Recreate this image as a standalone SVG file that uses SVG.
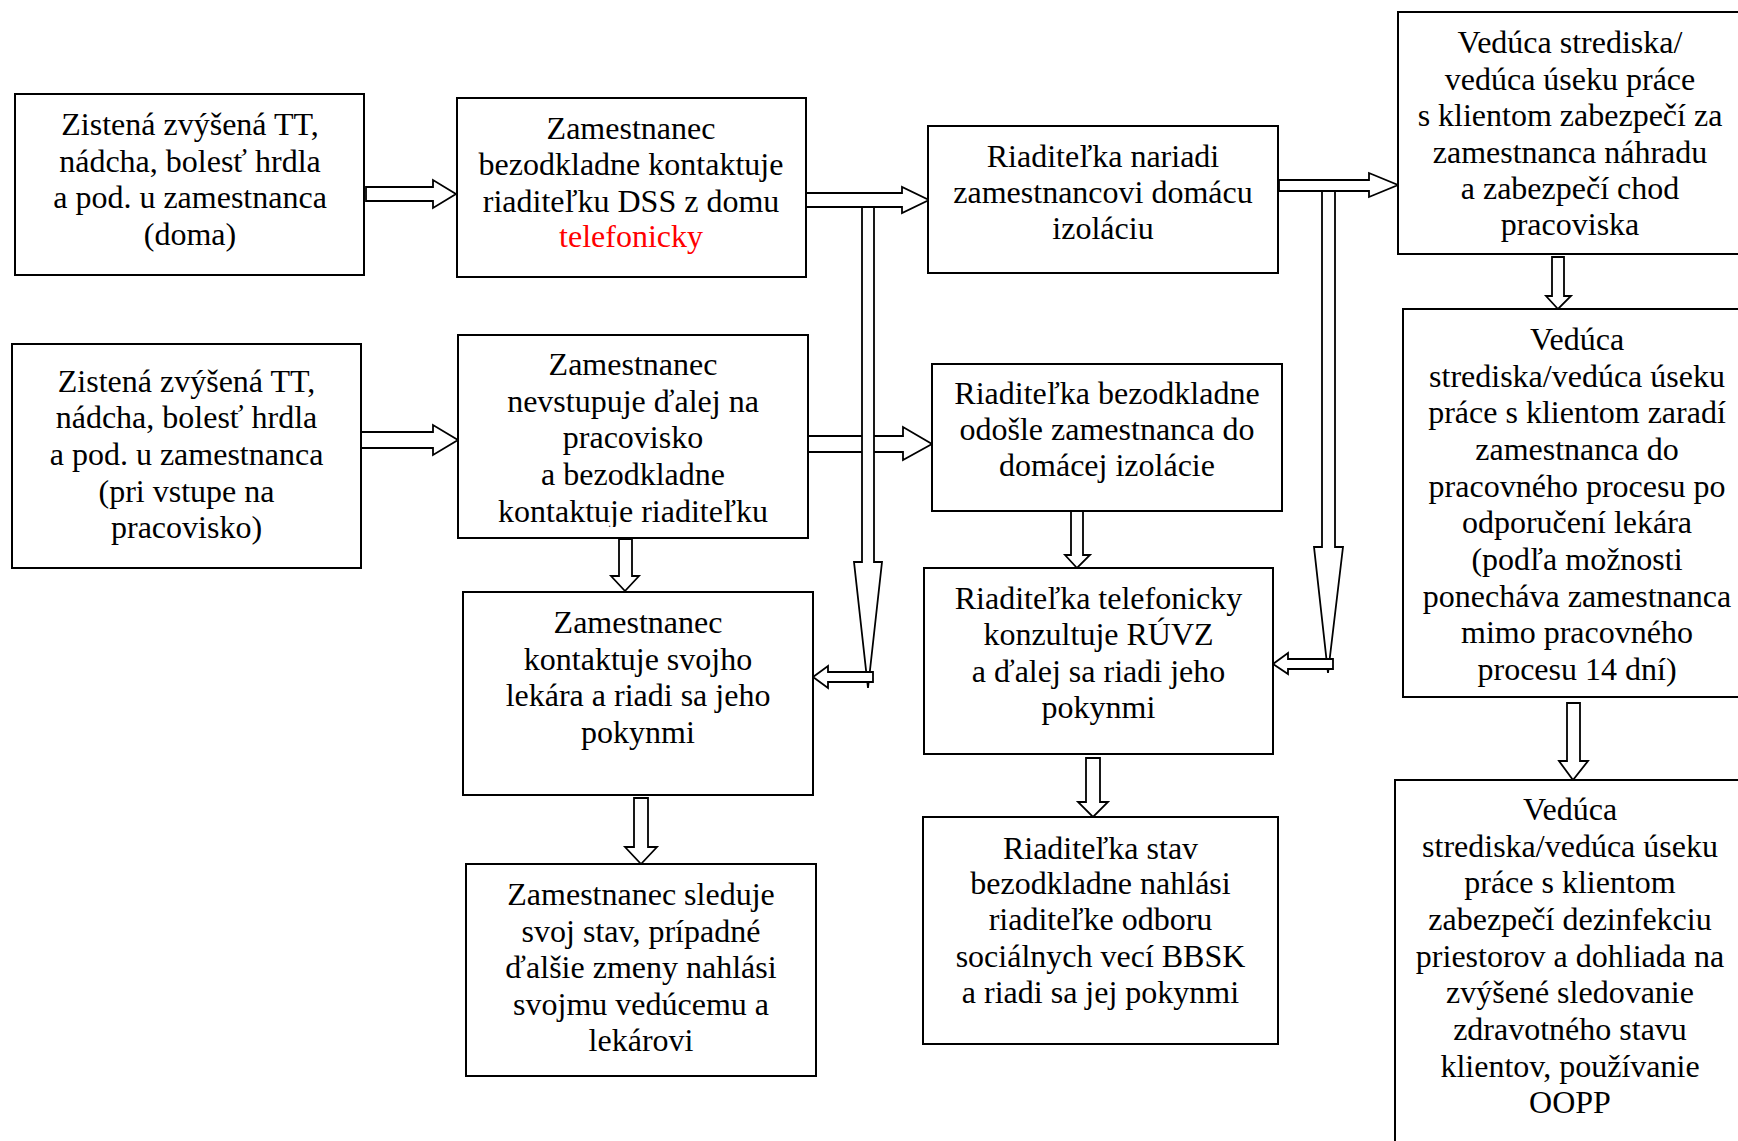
<svg xmlns="http://www.w3.org/2000/svg" width="1738" height="1141" viewBox="0 0 1738 1141">
<style>
.box{fill:#fff;stroke:#000;stroke-width:2}
.arr{fill:#fff;stroke:#000;stroke-width:1.8;stroke-linejoin:miter}
text{font-family:"Liberation Serif","Times New Roman",serif;font-size:32px;fill:#000;text-anchor:middle}
.red{fill:#ff0000}
</style>
<defs>
<clipPath id="clip6"><rect x="458" y="335" width="350" height="192"/></clipPath>
</defs>
<rect width="1738" height="1141" fill="#fff"/>
<g id="connectors">
<polygon class="arr" points="366,187 433,187 433,180 456,194 433,208 433,201 366,201"/>
<polygon class="arr" points="360,432 433,432 433,425 458,440 433,455 433,448 360,448"/>
<polygon class="arr" points="806,193 902,193 902,187 929,200 902,213 902,207 806,207"/>
<polygon class="arr" points="1279,180 1369,180 1369,173 1398,185 1369,197 1369,191 1279,191"/>
<polygon class="arr" points="808,436 903,436 903,427 932,444 903,460 903,452 808,452"/>
<polygon class="arr" points="862,207 874,207 874,562 882,562 868,688 854,562 862,562"/>
<polygon class="arr" points="873,672 828,672 828,666 813,677 828,688 828,682 873,682"/>
<polygon class="arr" points="1322,191 1335,191 1335,547 1343,547 1328,673 1314,547 1322,547"/>
<polygon class="arr" points="1333,659 1288,659 1288,653 1273,664 1288,674 1288,669 1333,669"/>
<polygon class="arr" points="619,539 632,539 632,576 639,576 625,591 611,576 619,576"/>
<polygon class="arr" points="634,798 648,798 648,847 657,847 641,864 625,847 634,847"/>
<polygon class="arr" points="1071,511 1083,511 1083,555 1090,555 1077,568 1065,555 1071,555"/>
<polygon class="arr" points="1086,758 1100,758 1100,802 1108,802 1093,817 1078,802 1086,802"/>
<polygon class="arr" points="1552,257 1564,257 1564,296 1571,296 1558,309 1546,296 1552,296"/>
<polygon class="arr" points="1567,703 1580,703 1580,761 1588,761 1573,780 1559,761 1567,761"/>
</g>
<g id="n1">
<rect class="box" x="15" y="94" width="349" height="181"/>
<text x="190" y="135">Zistená zvýšená TT,</text>
<text x="190" y="171.5">nádcha, bolesť hrdla</text>
<text x="190" y="208">a pod. u zamestnanca</text>
<text x="190" y="244.5">(doma)</text>
</g>
<g id="n2">
<rect class="box" x="457" y="98" width="349" height="179"/>
<text x="631" y="139">Zamestnanec</text>
<text x="631" y="175">bezodkladne kontaktuje</text>
<text x="631" y="211.5">riaditeľku DSS z domu</text>
<text x="631" y="247" class="red">telefonicky</text>
</g>
<g id="n3">
<rect class="box" x="928" y="126" width="350" height="147"/>
<text x="1103" y="166.5">Riaditeľka nariadi</text>
<text x="1103" y="203">zamestnancovi domácu</text>
<text x="1103" y="238.5">izoláciu</text>
</g>
<g id="n4">
<rect class="box" x="1398" y="12" width="346" height="242"/>
<text x="1570" y="53">Vedúca strediska/</text>
<text x="1570" y="89.5">vedúca úseku práce</text>
<text x="1570" y="126">s klientom zabezpečí za</text>
<text x="1570" y="162.5">zamestnanca náhradu</text>
<text x="1570" y="199">a zabezpečí chod</text>
<text x="1570" y="235">pracoviska</text>
</g>
<g id="n5">
<rect class="box" x="12" y="344" width="349" height="224"/>
<text x="186.5" y="391.5">Zistená zvýšená TT,</text>
<text x="186.5" y="428">nádcha, bolesť hrdla</text>
<text x="186.5" y="465">a pod. u zamestnanca</text>
<text x="186.5" y="501.5">(pri vstupe na</text>
<text x="186.5" y="538">pracovisko)</text>
</g>
<g id="n6">
<rect class="box" x="458" y="335" width="350" height="203"/>
<g clip-path="url(#clip6)">
<text x="633" y="375">Zamestnanec</text>
<text x="633" y="411.5">nevstupuje ďalej na</text>
<text x="633" y="448">pracovisko</text>
<text x="633" y="485">a bezodkladne</text>
<text x="633" y="521.5">kontaktuje riaditeľku</text>
</g>
</g>
<g id="n7">
<rect class="box" x="932" y="364" width="350" height="147"/>
<text x="1107" y="404">Riaditeľka bezodkladne</text>
<text x="1107" y="440">odošle zamestnanca do</text>
<text x="1107" y="476">domácej izolácie</text>
</g>
<g id="n8">
<rect class="box" x="924" y="568" width="349" height="186"/>
<text x="1098.5" y="608.5">Riaditeľka telefonicky</text>
<text x="1098.5" y="645">konzultuje RÚVZ</text>
<text x="1098.5" y="681.5">a ďalej sa riadi jeho</text>
<text x="1098.5" y="718">pokynmi</text>
</g>
<g id="n9">
<rect class="box" x="463" y="592" width="350" height="203"/>
<text x="638" y="633">Zamestnanec</text>
<text x="638" y="669.5">kontaktuje svojho</text>
<text x="638" y="706">lekára a riadi sa jeho</text>
<text x="638" y="742.5">pokynmi</text>
</g>
<g id="n10">
<rect class="box" x="466" y="864" width="350" height="212"/>
<text x="641" y="904.5">Zamestnanec sleduje</text>
<text x="641" y="941.5">svoj stav, prípadné</text>
<text x="641" y="978">ďalšie zmeny nahlási</text>
<text x="641" y="1014.5">svojmu vedúcemu a</text>
<text x="641" y="1051">lekárovi</text>
</g>
<g id="n11">
<rect class="box" x="923" y="817" width="355" height="227"/>
<text x="1100.5" y="858.5">Riaditeľka stav</text>
<text x="1100.5" y="894">bezodkladne nahlási</text>
<text x="1100.5" y="930">riaditeľke odboru</text>
<text x="1100.5" y="966.5">sociálnych vecí BBSK</text>
<text x="1100.5" y="1003">a riadi sa jej pokynmi</text>
</g>
<g id="n12">
<rect class="box" x="1403" y="309" width="345" height="388"/>
<text x="1577" y="350">Vedúca</text>
<text x="1577" y="386.5">strediska/vedúca úseku</text>
<text x="1577" y="423">práce s klientom zaradí</text>
<text x="1577" y="460">zamestnanca do</text>
<text x="1577" y="496.5">pracovného procesu po</text>
<text x="1577" y="533">odporučení lekára</text>
<text x="1577" y="570">(podľa možnosti</text>
<text x="1577" y="606.5">ponecháva zamestnanca</text>
<text x="1577" y="643">mimo pracovného</text>
<text x="1577" y="680">procesu 14 dní)</text>
</g>
<g id="n13">
<rect class="box" x="1395" y="780" width="355" height="370"/>
<text x="1570" y="820">Vedúca</text>
<text x="1570" y="856.5">strediska/vedúca úseku</text>
<text x="1570" y="893">práce s klientom</text>
<text x="1570" y="930">zabezpečí dezinfekciu</text>
<text x="1570" y="966.5">priestorov a dohliada na</text>
<text x="1570" y="1003">zvýšené sledovanie</text>
<text x="1570" y="1040">zdravotného stavu</text>
<text x="1570" y="1076.5">klientov, používanie</text>
<text x="1570" y="1112.5">OOPP</text>
</g>
</svg>
